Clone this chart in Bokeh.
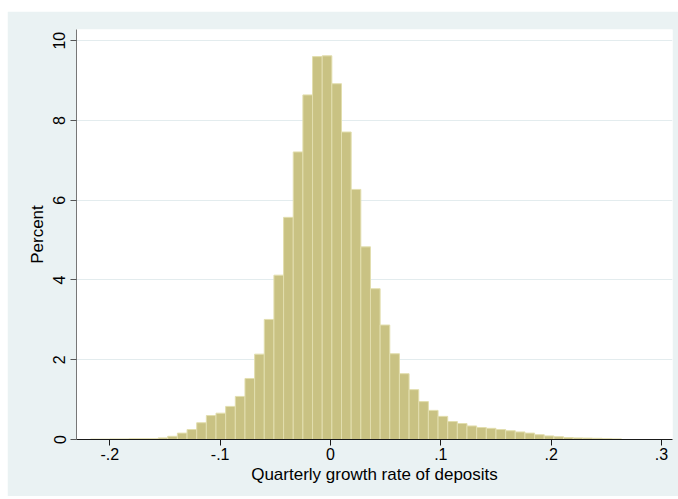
from bokeh.plotting import figure
from bokeh.models import FixedTicker, Range1d, ColumnDataSource
from bokeh.embed import file_html
from bokeh.resources import INLINE

# ---- data ----
bin_left = -0.2175
bin_width = 0.00875
percent = [0.01, 0.01, 0.015, 0.015, 0.02, 0.02, 0.02, 0.04, 0.08, 0.16,
           0.25, 0.42, 0.60, 0.66, 0.83, 1.08, 1.53, 2.14, 3.01, 4.12,
           5.57, 7.21, 8.64, 9.60, 9.62, 8.92, 7.71, 6.27, 4.83, 3.78,
           2.87, 2.15, 1.65, 1.25, 0.95, 0.73, 0.58, 0.45, 0.40, 0.34,
           0.30, 0.28, 0.25, 0.22, 0.19, 0.16, 0.12, 0.09, 0.07, 0.05,
           0.04, 0.035, 0.03, 0.02, 0.015]
x_ticks = [-0.2, -0.1, 0.0, 0.1, 0.2, 0.3]
x_tick_labels = ["-.2", "-.1", "0", ".1", ".2", ".3"]
y_ticks = [0, 2, 4, 6, 8, 10]
y_tick_labels = ["0", "2", "4", "6", "8", "10"]
x_title = "Quarterly growth rate of deposits"
y_title = "Percent"

lefts = [bin_left + i * bin_width for i in range(len(percent))]
rights = [l + bin_width for l in lefts]
src = ColumnDataSource(dict(left=lefts, right=rights, top=percent,
                            bottom=[0] * len(percent)))

BG = "#EAF2F3"
FONT = "Liberation Sans"

p = figure(width=671, height=485,
           x_range=Range1d(-0.2302, 0.3100), y_range=Range1d(0, 10.28),
           output_backend="svg", toolbar_location=None,
           min_border_left=69, min_border_top=18,
           min_border_right=6, min_border_bottom=57)
p.margin = (11, 0, 3, 7)
p.border_fill_color = BG
p.background_fill_color = "white"
p.outline_line_color = None

p.quad(left="left", right="right", top="top", bottom="bottom", source=src,
       fill_color="#C9C283", line_color="#E2DEAE", line_width=1)

p.xgrid.visible = False
p.ygrid.ticker = FixedTicker(ticks=[2, 4, 6, 8, 10])
p.ygrid.grid_line_color = "#E3ECEE"
p.ygrid.grid_line_width = 1

xa = p.xaxis[0]
xa.ticker = FixedTicker(ticks=x_ticks)
xa.major_label_overrides = {t: s for t, s in zip(x_ticks, x_tick_labels)}
xa.axis_label = x_title
ya = p.yaxis[0]
ya.ticker = FixedTicker(ticks=y_ticks)
ya.major_label_overrides = {t: s for t, s in zip(y_ticks, y_tick_labels)}
ya.axis_label = y_title
ya.major_label_orientation = "vertical"

for ax in (xa, ya):
    ax.minor_tick_line_color = None
    ax.major_tick_in = 0
    ax.major_tick_out = 6
    ax.major_label_text_font = FONT
    ax.major_label_text_font_size = "16px"
    ax.major_label_text_color = "black"
    ax.axis_label_text_font = FONT
    ax.axis_label_text_font_size = "17px"
    ax.axis_label_text_font_style = "normal"
    ax.axis_label_text_color = "black"

xa.axis_line_color = "#1a1a1a"
xa.major_tick_line_color = "#1a1a1a"
xa.major_label_standoff = 2
xa.axis_label_standoff = 2
ya.axis_line_color = "#777777"
ya.major_tick_line_color = "#555555"
ya.major_label_standoff = 5
ya.axis_label_standoff = 4

open("out.html", "w").write(file_html(p, INLINE))
